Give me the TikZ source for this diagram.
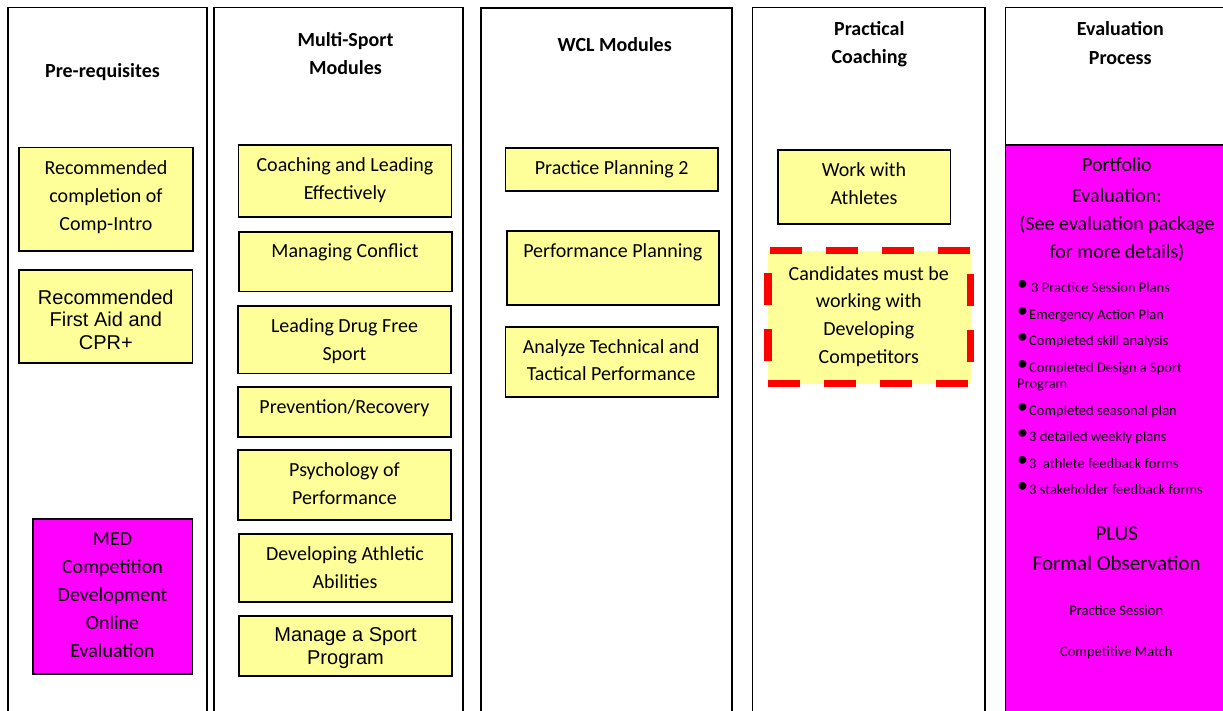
\documentclass[tikz,border=0pt]{standalone}
\usepackage{fontspec}
\setmainfont{Carlito}
\newfontfamily\arialf{Liberation Sans}
\definecolor{boxyellow}{HTML}{FFFF99}
\definecolor{boxmag}{HTML}{FF00FF}
\newcommand\boxat[6]{%
  \node[#1, minimum width={(#5-#3)*1pt}, minimum height={(#6-#4)*1pt}] (#2) at ({(#3+#5)/2},{(#4+#6)/2}) {};}
\newcommand\bul{\makebox[12pt][l]{\raisebox{2pt}[0pt][0pt]{\fontsize{22}{22}\selectfont\textbullet}}}
\begin{document}
\begin{tikzpicture}[x=1pt,y=-1pt,
  col/.style={draw=black, line width=1.4pt, fill=white, inner sep=0pt, outer sep=0pt},
  ybox/.style={draw=black, line width=1.5pt, fill=boxyellow, inner sep=0pt, outer sep=0pt},
  mbox/.style={draw=black, line width=1.5pt, fill=boxmag, inner sep=0pt, outer sep=0pt},
  dbox/.style={draw=red, line width=7.5pt, dash pattern=on 32pt off 24pt, fill=boxyellow, inner sep=0pt, outer sep=0pt},
  btext/.style={anchor=base, align=center, inner sep=0pt, font=\fontsize{20}{28}\selectfont},
  atext/.style={anchor=base, align=center, inner sep=0pt, font=\arialf\fontsize{20}{22.7}\selectfont},
  head/.style={anchor=base, align=center, inner sep=0pt, font=\bfseries\fontsize{20}{28}\selectfont},
  small/.style={anchor=base, align=center, inner sep=0pt, font=\fontsize{14.5}{16.7}\selectfont},
  big/.style={anchor=base, align=center, inner sep=0pt, font=\fontsize{21}{30}\selectfont}]
\useasboundingbox (0,0) rectangle (1223,710);
\clip (0,0) rectangle (1223,710);
\fill[white] (0,0) rectangle (1223,710);
% columns
\boxat{col}{c1}{8}{7.5}{207}{730}
\boxat{col}{c2}{214}{7.5}{463}{730}
\boxat{col}{c3}{481}{8}{732}{730}
\boxat{col}{c4}{752.5}{7.5}{985}{730}
\boxat{col}{c5}{1005.5}{7.5}{1240}{730}
\boxat{mbox}{portf}{1005.5}{145}{1240}{730}
% headers (base anchor = baseline of the last line)
\node[head] (h1) at (102.5,77.3) {Pre-requisites};
\node[head] (h2) at (345.5,74) {Multi-Sport\\Modules};
\node[head] (h3) at (614.7,51) {WCL Modules};
\node[head, font=\bfseries\fontsize{20}{27.7}\selectfont] (h4) at (869.3,63.4) {Practical\\Coaching};
\node[head, font=\bfseries\fontsize{20}{29}\selectfont] (h5) at (1120.3,64) {Evaluation\\Process};
% column 1
\boxat{ybox}{a}{19}{147.5}{193}{251}
\node[btext] (at) at (106,230.3) {Recommended\\completion of\\Comp-Intro};
\boxat{ybox}{b}{19}{270}{192.5}{363}
\node[atext] (bt) at (105.8,349.4) {Recommended\\First Aid and\\CPR+};
\boxat{mbox}{med}{33}{519}{192.5}{674}
\node[btext] (medt) at (112.5,657.3) {MED\\Competition\\Development\\Online\\Evaluation};
% column 2
\boxat{ybox}{coach}{238.5}{145}{451.5}{217}
\node[btext] (coacht) at (345,199.7) {Coaching and Leading\\Effectively};
\boxat{ybox}{confl}{239}{232}{452}{291.5}
\node[btext] (conflt) at (345,257.7) {Managing Conflict};
\boxat{ybox}{drug}{238}{306}{451}{373.5}
\node[btext] (drugt) at (344.5,360.3) {Leading Drug Free\\Sport};
\boxat{ybox}{prev}{238}{387}{451}{437}
\node[btext] (prevt) at (344.5,413.3) {Prevention/Recovery};
\boxat{ybox}{psych}{238}{450}{451}{520}
\node[btext] (psycht) at (344.5,504) {Psychology of\\Performance};
\boxat{ybox}{devel}{239}{534}{452}{602}
\node[btext] (develt) at (345,588) {Developing Athletic\\Abilities};
\boxat{ybox}{manage}{239}{616}{452}{676}
\node[atext] (managet) at (345.5,664.4) {Manage a Sport\\Program};
% column 3
\boxat{ybox}{pp}{505.5}{148}{718}{191}
\node[btext] (ppt) at (611.7,174.3) {Practice Planning 2};
\boxat{ybox}{perf}{507}{231}{719}{305}
\node[btext] (perft) at (612.8,257.7) {Performance Planning};
\boxat{ybox}{anal}{505.5}{327}{718}{397}
\node[btext, font=\fontsize{20}{27.4}\selectfont] (analt) at (611.2,380.7) {Analyze Technical and\\Tactical Performance};
% column 4
\boxat{ybox}{work}{778}{150}{950.5}{224}
\node[btext, font=\fontsize{20}{27.3}\selectfont] (workt) at (864,204) {Work with\\Athletes};
\boxat{dbox}{cand}{768}{250.5}{970.5}{383.5}
\node[btext, font=\fontsize{20}{27.8}\selectfont] (candt) at (868.8,363.4) {Candidates must be\\working with\\Developing\\Competitors};
% column 5
\node[btext] (portt) at (1117,258.7) {Portfolio\\[3pt]Evaluation:\\(See evaluation package\\for more details)};
\node[small, anchor=base west, align=left] (list) at (1017,494.7)
  {\bul\hspace{2pt}3 Practice Session Plans\\[9.8pt]
   \bul Emergency Action Plan\\[9.8pt]
   \bul Completed skill analysis\\[9.8pt]
   \bul Completed Design a Sport\\
   Program\\[9.8pt]
   \bul Completed seasonal plan\\[9.8pt]
   \bul 3 detailed weekly plans\\[9.8pt]
   \bul 3\ \ athlete feedback forms\\[9.8pt]
   \bul 3 stakeholder feedback forms};
\node[big] (plus) at (1116.7,570.7) {PLUS\\Formal Observation};
\node[small] (ps) at (1116.3,615.7) {Practice Session};
\node[small] (cm) at (1116.3,656.7) {Competitive Match};
\end{tikzpicture}
\end{document}
